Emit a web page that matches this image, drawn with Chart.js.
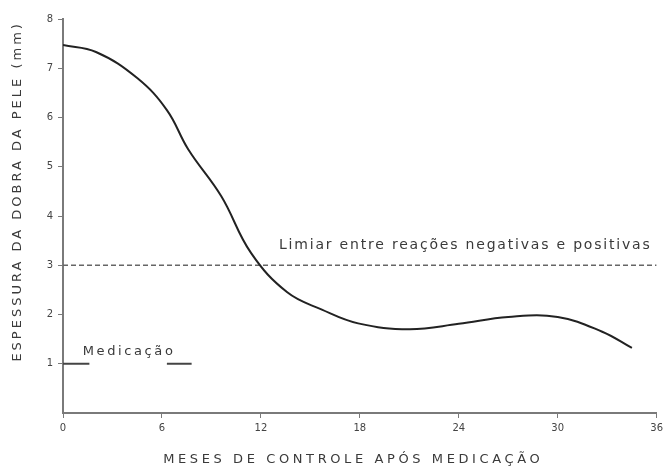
<!DOCTYPE html>
<html>
<head>
<meta charset="utf-8">
<script src="https://cdn.jsdelivr.net/npm/chart.js"></script>
<style>
  html, body { margin: 0; padding: 0; background: #fff; }
  #wrap { width: 667px; height: 467px; }
</style>
</head>
<body>
<div id="wrap"><canvas id="myChart" width="667" height="467"></canvas></div>
<script>
// values
const months = [0, 2, 4.5, 6.3, 7.6, 9.6, 11.4, 13.6, 15.7, 17.9, 21, 24, 27, 30, 32.7, 34.5];
const thickness = [7.47, 7.33, 6.8, 6.15, 5.35, 4.4, 3.25, 2.45, 2.1, 1.82, 1.7, 1.81, 1.95, 1.95, 1.65, 1.32];
const thresholdValue = 3;
const thresholdRange = [0, 36];
const medicationLeft = [0, 1.6];
const medicationRight = [6.3, 7.8];
const medicationLevel = 1;
const xTicks = [0, 6, 12, 18, 24, 30, 36];
const yTicks = [1, 2, 3, 4, 5, 6, 7, 8];

const xTitle = 'MESES DE CONTROLE APÓS MEDICAÇÃO';
const yTitle = 'ESPESSURA DA DOBRA DA PELE (mm)';
const thresholdLabel = 'Limiar entre reações negativas e positivas';
const medicationLabel = 'Medicação';

const ink = '#222';
const axisGray = '#7a7a7a';

// Draw free texts (titles and notes)
const textPlugin = {
    id: 'texts',
    afterDatasetsDraw(chart) {
        const ctx = chart.ctx;
        const x = chart.scales.x;
        const y = chart.scales.y;
        ctx.save();
        ctx.fillStyle = '#3a3a3a';
        ctx.textBaseline = 'middle';

        ctx.font = '14px "DejaVu Sans"';
        ctx.letterSpacing = '1.8px';
        ctx.textAlign = 'left';
        ctx.fillText(thresholdLabel, x.getPixelForValue(13.1), y.getPixelForValue(thresholdValue) - 20);

        ctx.font = '13px "DejaVu Sans"';
        ctx.letterSpacing = '2.6px';
        ctx.fillText(medicationLabel, x.getPixelForValue(1.2), y.getPixelForValue(medicationLevel) - 12);

        ctx.font = '13px "DejaVu Sans"';
        ctx.letterSpacing = '3.6px';
        ctx.textAlign = 'center';
        ctx.fillText(xTitle, x.getPixelForValue(17.6), chart.height - 7);

        ctx.translate(18, y.getPixelForValue(4.5));
        ctx.rotate(-Math.PI / 2);
        ctx.letterSpacing = '3px';
        ctx.fillText(yTitle, 0, 0);
        ctx.restore();
    }
};

const ctx = document.getElementById('myChart').getContext('2d');
new Chart(ctx, {
    type: 'scatter',
    data: {
        datasets: [
            {
                data: months.map((m, i) => ({ x: m, y: thickness[i] })),
                showLine: true,
                borderColor: ink,
                borderWidth: 2,
                pointRadius: 0,
                tension: 0.4
            },
            {
                data: thresholdRange.map(m => ({ x: m, y: thresholdValue })),
                showLine: true,
                borderColor: '#666',
                borderWidth: 1.3,
                borderDash: [5, 3],
                pointRadius: 0
            },
            {
                data: medicationLeft.map(m => ({ x: m, y: medicationLevel })),
                showLine: true,
                borderColor: '#444',
                borderWidth: 1.8,
                pointRadius: 0
            },
            {
                data: medicationRight.map(m => ({ x: m, y: medicationLevel })),
                showLine: true,
                borderColor: '#444',
                borderWidth: 1.8,
                pointRadius: 0
            }
        ]
    },
    options: {
        responsive: false,
        animation: false,
        layout: { padding: { left: 0, right: 9, top: 19, bottom: 0 } },
        plugins: {
            legend: { display: false },
            tooltip: { enabled: false }
        },
        scales: {
            x: {
                type: 'linear',
                min: 0,
                max: 36,
                afterFit: s => { s.height = 54; },
                afterBuildTicks: s => { s.ticks = xTicks.map(v => ({ value: v })); },
                grid: { drawOnChartArea: false, drawTicks: true, tickLength: 5, color: axisGray },
                border: { display: true, color: axisGray, width: 2 },
                ticks: {
                    color: '#444',
                    font: { family: 'DejaVu Sans', size: 10 },
                    padding: 4,
                    maxRotation: 0
                }
            },
            y: {
                min: 0,
                max: 8,
                afterFit: s => { s.width = 63; },
                afterBuildTicks: s => { s.ticks = yTicks.map(v => ({ value: v })); },
                grid: { drawOnChartArea: false, drawTicks: true, tickLength: 5, color: axisGray },
                border: { display: true, color: axisGray, width: 2 },
                ticks: {
                    color: '#444',
                    font: { family: 'DejaVu Sans', size: 10 },
                    padding: 5
                }
            }
        }
    },
    plugins: [textPlugin]
});
</script>
</body>
</html>
